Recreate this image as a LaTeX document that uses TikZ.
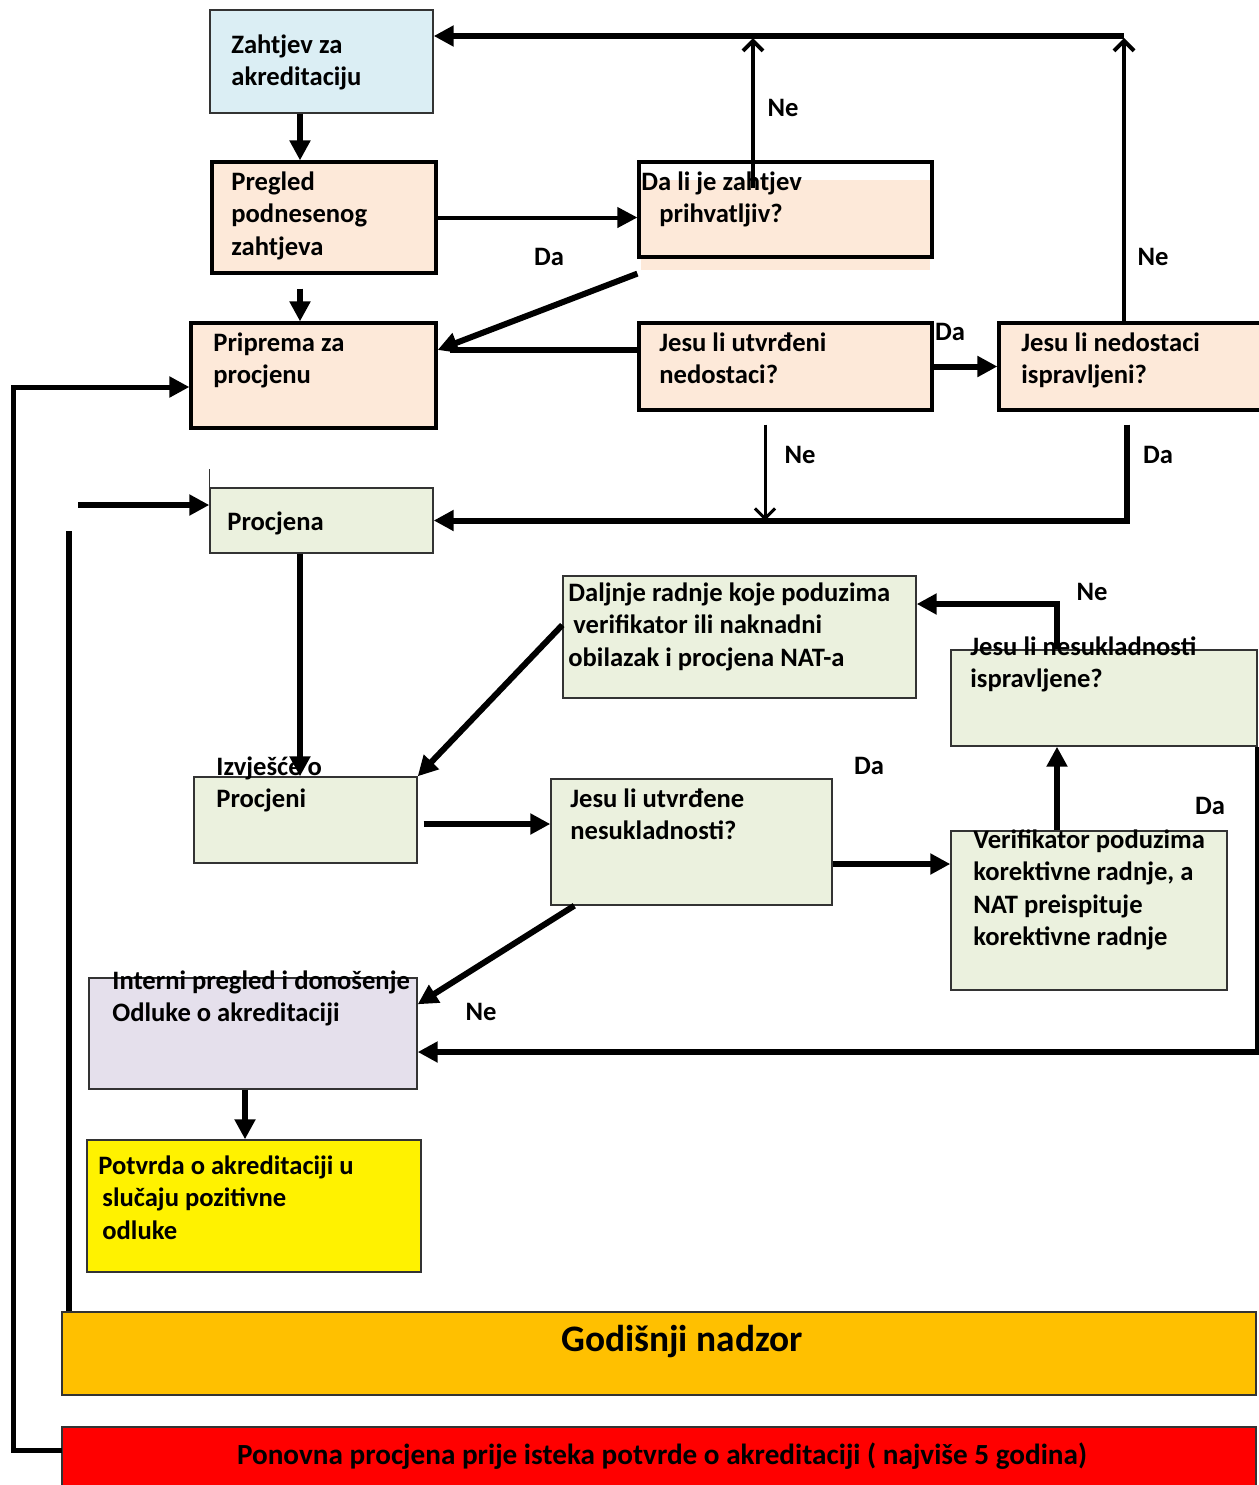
\documentclass[tikz,border=0pt]{standalone}
\usepackage{fontspec}
\setmainfont{Carlito}
\usetikzlibrary{arrows.meta,fit}

\definecolor{zahtjevblue}{HTML}{DBEEF4}
\definecolor{peach}{HTML}{FDE9D9}
\definecolor{sage}{HTML}{EBF1DE}
\definecolor{lavender}{HTML}{E5E0EC}
\definecolor{nadzororange}{HTML}{FFC000}

\begin{document}
\begin{tikzpicture}[x=0.5pt,y=-0.5pt]

\tikzset{box/.style = {inner sep=0pt, draw=black!80, line width=0.7pt},
  thickbox/.style = {inner sep=0pt, draw=black, line width=1.6pt, fill=peach},
  txt/.style = {anchor=base west, inner sep=0pt, align=left, font=\bfseries\fontsize{13.3}{16.3}\selectfont},
  lbl/.style = {inner sep=0pt, font=\bfseries\fontsize{13.3}{16.3}\selectfont},
  flow/.style = {line width=3pt, -{Triangle[length=10pt,width=10pt]}},
  barb/.style = {line width=2pt, -{Straight Barb[length=5pt,width=10pt]}}}

\useasboundingbox (0,0) rectangle (1259,1485);

\coordinate (colA) at (300,0);
\coordinate (colB) at (245,0);
\coordinate (neCol) at (753,0);
\coordinate (topRight) at (1124,36);
\coordinate (verUp) at (1057,0);
\coordinate (farLeft) at (13,0);
\coordinate (leftIn) at (78,505);
\coordinate (nadzorUp) at (69,531);
\coordinate (ponovnaOut) at (62,1450);

\node[box, fill=zahtjevblue, fit={(210,10) (433,113)}] (zahtjev) {};
\node[thickbox, fit={(212,162) (436,273)}] (pregled) {};
\fill[peach] (641,180) rectangle (930,270);
\node[thickbox, fill=none, fit={(639,162) (932,257)}] (prihvatljiv) {};
\node[thickbox, fit={(191,323) (436,428)}] (priprema) {};
\node[thickbox, fit={(639,323) (932,410)}] (nedostaci) {};
\node[thickbox, fit={(999,323) (1264,410)}] (ispravljeni) {};
\node[box, fill=sage, fit={(210,488) (433,553)}] (procjena) {};
\draw[black!80, line width=0.7pt] (procjena.north west) -- ++(0,-18);
\node[box, fill=sage, fit={(563,576) (916,698)}] (daljnje) {};
\node[box, fill=sage, fit={(951,650) (1257,746)}] (nesukIspr) {};
\node[box, fill=sage, fit={(194,777) (417,863)}] (izvjesce) {};
\node[box, fill=sage, fit={(551,779) (832,905)}] (nesukladnosti) {};
\node[box, fill=sage, fit={(951,831) (1227,990)}] (verifikator) {};
\node[box, fill=lavender, fit={(89,978) (417,1089)}] (interni) {};
\node[box, fill=yellow, fit={(87,1140) (421,1272)}] (potvrda) {};
\node[box, fill=nadzororange, fit={(62,1312) (1256,1395)}] (nadzor) {};
\node[box, fill=red, fit={(62,1427) (1256,1500)}] (ponovna) {};

\node[txt] (zahtjev-t) at (231,85.6) {Zahtjev za\\akreditaciju};
\node[txt] (pregled-t) at (231,255.2) {Pregled\\podnesenog\\zahtjeva};
\node[txt] (prihvatljiv-t) at (641,222.6) {Da li je zahtjev\\\hspace*{9pt}prihvatljiv?};
\node[txt] (priprema-t) at (213,383.6) {Priprema za\\procjenu};
\node[txt] (nedostaci-t) at (659,383.6) {Jesu li utvrđeni\\nedostaci?};
\node[txt] (ispravljeni-t) at (1021,383.6) {Jesu li nedostaci\\ispravljeni?};
\node[txt] (procjena-t) at (227,530) {Procjena};
\node[txt] (daljnje-t) at (568,666.2) {Daljnje radnje koje poduzima\\\hspace*{2.5pt}verifikator ili naknadni\\obilazak i procjena NAT-a};
\node[txt] (nesukIspr-t) at (970,687.6) {Jesu li nesukladnosti\\ispravljene?};
\node[txt] (izvjesce-t) at (216,807.6) {Izvješće o\\Procjeni};
\node[txt] (nesukladnosti-t) at (570,839.6) {Jesu li utvrđene\\nesukladnosti?};
\node[txt] (verifikator-t) at (973,945.8) {Verifikator poduzima\\korektivne radnje, a\\NAT preispituje\\korektivne radnje};
\node[txt] (interni-t) at (112,1021.6) {Interni pregled i donošenje\\Odluke o akreditaciji};
\node[txt] (potvrda-t) at (98,1239.2) {Potvrda o akreditaciji u\\\hspace*{2pt}slučaju pozitivne\\\hspace*{2pt}odluke};
\node[lbl, font=\bfseries\fontsize{18.7}{22}\selectfont] (nadzor-t) at (682,1342) {Godišnji nadzor};
\node[lbl, font=\bfseries\fontsize{14.6}{18}\selectfont] (ponovna-t) at (662,1456) {Ponovna procjena prije isteka potvrde o akreditaciji ( najviše 5 godina)};

\node[lbl] (ne1) at (783,108) {Ne};
\node[lbl] (da1) at (549,257) {Da};
\node[lbl] (ne2) at (1153,257) {Ne};
\node[lbl] (da2) at (950,332) {Da};
\node[lbl] (ne3) at (800,455) {Ne};
\node[lbl] (da3) at (1158,455) {Da};
\node[lbl] (ne4) at (1092,592) {Ne};
\node[lbl] (da4) at (869,766) {Da};
\node[lbl] (da5) at (1210,806) {Da};
\node[lbl] (ne5) at (481,1012) {Ne};

\draw[flow] (zahtjev.south -| colA) -- (pregled.north -| colA);
\draw[flow] ([yshift=-7pt]pregled.south -| colA) -- (priprema.north -| colA);
\draw[flow, line width=2pt] (pregled.east) -- (prihvatljiv.west |- pregled.east);
\draw[flow] ([yshift=-7.5pt]prihvatljiv.south west) -- ([yshift=12.75pt]priprema.east);
\draw[line width=3pt, shorten >=6pt] (nedostaci.west |- 0,350) -- ([yshift=12.75pt]priprema.east);
\draw[flow] (nedostaci) -- (ispravljeni);
\draw[barb] ([yshift=-14pt]prihvatljiv.north -| neCol) -- ([yshift=-1pt]neCol |- topRight);
\draw[barb] (ispravljeni.north -| topRight) -- ([yshift=-1pt]topRight);
\draw[flow] (topRight) -- (zahtjev.east |- topRight);
\draw[barb, line width=1.5pt] ([xshift=-10.25pt,yshift=-6.5pt]nedostaci.south) -- ([xshift=-10.25pt]nedostaci.south |- procjena.east);
\draw[flow] ([xshift=-2.25pt,yshift=-6.5pt]ispravljeni.south) |- (procjena.east);
\draw[flow] (procjena.south -| colA) -- (izvjesce.north -| colA);
\draw[flow] (leftIn) -- (leftIn -| procjena.west);
\draw[line width=3pt] (nadzor.north -| nadzorUp) -- (nadzorUp);
\draw[flow, line width=2.5pt] (ponovnaOut) -- (ponovnaOut -| farLeft) |- ([yshift=-5.75pt]priprema.west);
\draw[flow] ([yshift=6pt]daljnje.west) -- (izvjesce.north east);
\draw[flow] ([xshift=3pt,yshift=-2pt]izvjesce.east) -- ([yshift=-2pt]izvjesce.east -| nesukladnosti.west);
\draw[flow] ([yshift=-11pt]nesukladnosti.east) -- ([yshift=-11pt]nesukladnosti.east -| verifikator.west);
\draw[flow] (verifikator.north -| verUp) -- (nesukIspr.south -| verUp);
\draw[flow] (nesukIspr.north -| verUp) |- ([yshift=16.5pt]daljnje.east);
\draw[flow] (nesukIspr.south east) |- ([yshift=-9.25pt]interni.east);
\draw[flow] ([xshift=12pt]nesukladnosti.south west) -- ([yshift=-13.5pt]interni.north east);
\draw[flow] (interni.south -| colB) -- (potvrda.north -| colB);

\end{tikzpicture}
\end{document}
